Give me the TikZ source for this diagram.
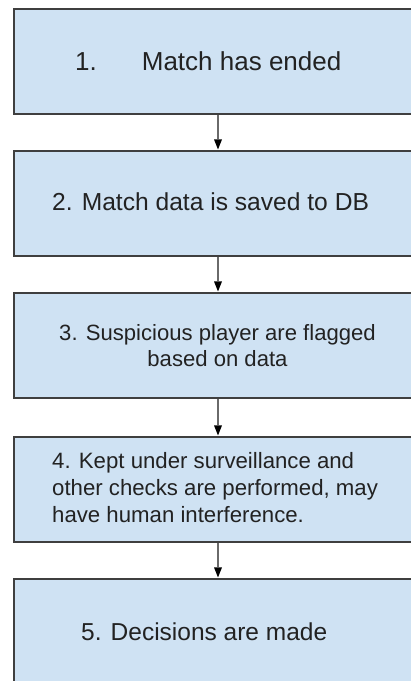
\documentclass[tikz,border=0pt]{standalone}
\usepackage{fontspec}
\setmainfont{Liberation Sans}
\usetikzlibrary{arrows.meta}
\definecolor{boxfill}{HTML}{CFE2F3}
\definecolor{boxline}{HTML}{3F3F3F}
\definecolor{arrline}{HTML}{6A6A6A}
\definecolor{txt}{HTML}{222222}
\tikzset{
  stepbox/.style={draw=boxline, line width=1.6pt, fill=boxfill, rectangle,
    minimum width=408pt, minimum height=105pt, inner sep=0pt},
  steptext/.style={inner sep=0pt, text=txt},
  flow/.style={draw=arrline, line width=1.8pt,
    -{Triangle[width=8pt,length=10pt,color=black,line width=0pt]}, shorten >=0.8pt}
}
\begin{document}
\begin{tikzpicture}[x=1pt,y=-1pt]
\useasboundingbox (0,0) rectangle (411,681);
\clip (0,0) rectangle (411,681);
\fill[white] (0,0) rectangle (411,681);
\node[stepbox] (b1) at (218,61.5) {};
\node[stepbox] (b2) at (218,203.5) {};
\node[stepbox] (b3) at (218,345.5) {};
\node[stepbox] (b4) at (218,489.5) {};
\node[stepbox] (b5) at (218,631.5) {};
\draw[flow] (b1.south) -- (b2.north);
\draw[flow] (b2.south) -- (b3.north);
\draw[flow] (b3.south) -- (b4.north);
\draw[flow] (b4.south) -- (b5.north);
\node[steptext, anchor=base west, font=\fontsize{26}{31}\selectfont] (t1) at (75,70) {1.\hspace{45pt}Match has ended};
\node[steptext, anchor=base west, font=\fontsize{24.6}{29.5}\selectfont] (t2) at (52,210) {2. Match data is saved to DB};
\node[steptext, anchor=base, align=center, font=\fontsize{22.1}{26.6}\selectfont] (t3) at (217.5,366.6) {3. Suspicious player are flagged\\based on data};
\node[steptext, anchor=base west, align=left, font=\fontsize{22.2}{27}\selectfont] (t4) at (52,522) {4. Kept under surveillance and\\other checks are performed, may\\have human interference.};
\node[steptext, anchor=base west, font=\fontsize{24.5}{29.4}\selectfont] (t5) at (81,640) {5. Decisions are made};
\end{tikzpicture}
\end{document}
